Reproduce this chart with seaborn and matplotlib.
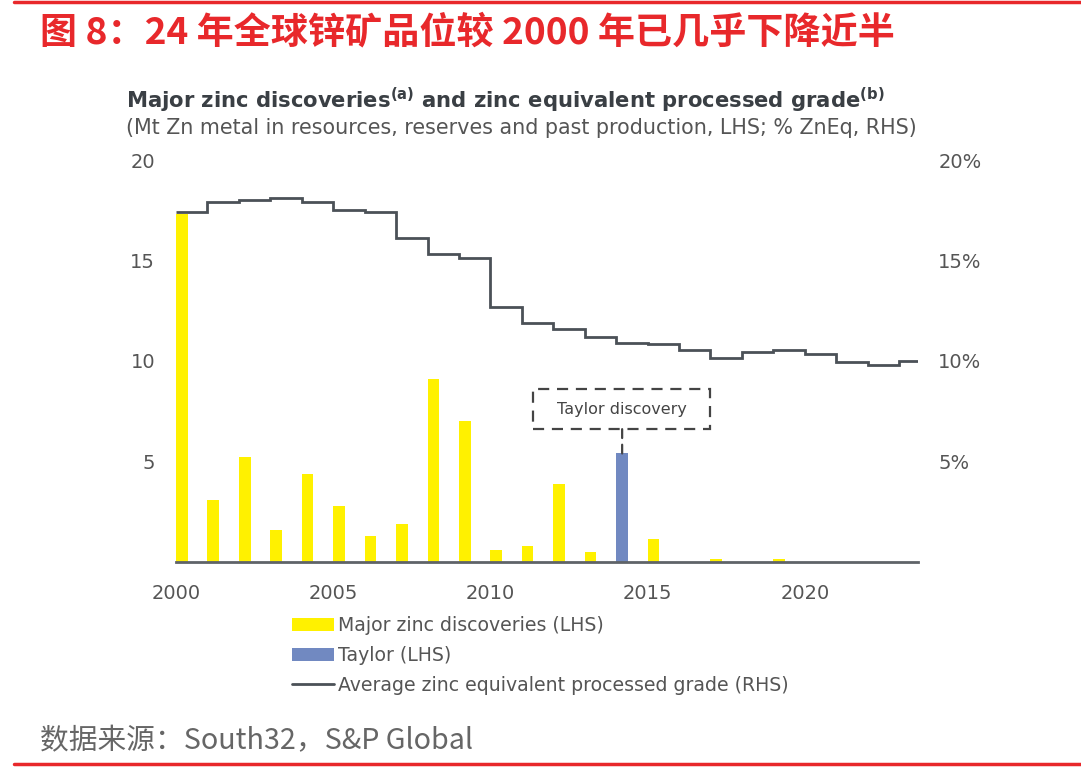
import numpy as np
import pandas as pd
import matplotlib
matplotlib.use("Agg")
import matplotlib.pyplot as plt
import seaborn as sns
from matplotlib.patches import Rectangle, Patch
from matplotlib.lines import Line2D
from matplotlib.ticker import FuncFormatter

# ---------------- data ----------------
years = list(range(2000, 2024))
discoveries = [17.3, 3.1, 5.2, 1.6, 4.4, 2.8, 1.3, 1.9, 9.1, 7.0, 0.6, 0.8,
               3.9, 0.5, 5.4, 1.15, 0.0, 0.17, 0.0, 0.17, 0.0, 0.0, 0.0, 0.0]
taylor_year = 2014
grade = [17.4, 17.9, 18.0, 18.1, 17.9, 17.5, 17.4, 16.1, 15.3, 15.1, 12.7, 11.9,
         11.6, 11.2, 10.9, 10.85, 10.55, 10.15, 10.45, 10.55, 10.35, 9.95, 9.8, 10.0]
series_names = ["Major zinc discoveries (LHS)", "Taylor (LHS)",
                "Average zinc equivalent processed grade (RHS)"]
left_ticks = [5, 10, 15, 20]
right_ticks = [5, 10, 15, 20]
x_ticks = [2000, 2005, 2010, 2015, 2020]

df = pd.DataFrame({
    "year": years,
    "value": discoveries,
    "series": [series_names[1] if y == taylor_year else series_names[0] for y in years],
})

YELLOW = "#FFF100"
BLUE = "#7189C1"
LINE = "#4B5157"
TXT = "#555555"
RED = "#E8282B"

sns.set_theme(style="white")
plt.rcParams["font.family"] = ["DejaVu Sans"]

fig = plt.figure(figsize=(10.81, 7.68), dpi=100)
ax = fig.add_axes([176 / 1081, 1 - 562 / 768, (918 - 176) / 1081, (562 - 160) / 768])

sns.barplot(data=df, x="year", y="value", hue="series", native_scale=True,
            dodge=False, width=0.37, errorbar=None, legend=False, saturation=1,
            palette={series_names[0]: YELLOW, series_names[1]: BLUE},
            linewidth=0, ax=ax)
# align bars' left edge with the year
for p in ax.patches:
    p.set_x(p.get_x() + p.get_width() / 2)

ax.set_xlim(2000, 2023.6)
ax.set_ylim(0, 20)
ax.set_xticks(x_ticks)
ax.set_yticks(left_ticks)
ax.set_xlabel("")
ax.set_ylabel("")
for s in ["top", "left", "right"]:
    ax.spines[s].set_visible(False)
ax.spines["bottom"].set_color("#5f6368")
ax.spines["bottom"].set_linewidth(2)
ax.tick_params(axis="both", length=0, labelsize=14, labelcolor=TXT)
ax.tick_params(axis="x", pad=16)
ax.tick_params(axis="y", pad=15)

ax2 = ax.twinx()
edges = np.append(np.array(years), years[-1] + 1)
ax2.stairs(grade, edges, color=LINE, linewidth=2, baseline=None)
ax2.set_ylim(0, 20)
ax2.set_yticks(right_ticks)
ax2.yaxis.set_major_formatter(FuncFormatter(lambda v, _: f"{v:.0f}%"))
for s in ["top", "left", "right", "bottom"]:
    ax2.spines[s].set_visible(False)
ax2.tick_params(axis="y", length=0, labelsize=14, labelcolor=TXT, pad=14.5)
ax2.grid(False)
ax.grid(False)

# Taylor annotation
tx = taylor_year + 0.19
tval = discoveries[years.index(taylor_year)]
box_x0, box_x1, box_y0, box_y1 = 2011.37, 2017.0, 6.61, 8.6
ax.add_patch(Rectangle((box_x0, box_y0), box_x1 - box_x0, box_y1 - box_y0,
                       fill=False, edgecolor="#444444", linewidth=1.6,
                       linestyle=(0, (5, 3.5)), clip_on=False, zorder=5))
ax.text((box_x0 + box_x1) / 2, (box_y0 + box_y1) / 2, "Taylor discovery",
        ha="center", va="center", fontsize=11.5, color="#444444", zorder=6)
ax.annotate("", xy=(tx, tval), xytext=(tx, box_y0),
            arrowprops=dict(arrowstyle="-", color="#444444", lw=1.6,
                            linestyle=(0, (4, 3)), shrinkA=0, shrinkB=0))

# Titles
fig.text(40 / 1081, 1 - 33 / 768, "图 8：24 年全球锌矿品位较 2000 年已几乎下降近半",
         fontsize=26.7, fontweight="bold", color=RED, ha="left", va="center",
         family=["Noto Sans CJK SC", "DejaVu Sans"])
fig.text(126 / 1081, 1 - 100 / 768,
         r"Major zinc discoveries$^{\mathbf{(a)}}$ and zinc equivalent processed grade$^{\mathbf{(b)}}$",
         fontsize=15.2, fontweight="bold", color="#3a3f44", ha="left", va="center")
fig.text(126 / 1081, 1 - 128 / 768,
         "(Mt Zn metal in resources, reserves and past production, LHS; % ZnEq, RHS)",
         fontsize=14.9, color=TXT, ha="left", va="center")
fig.text(40 / 1081, 1 - 741 / 768, "数据来源：South32，S&P Global",
         fontsize=20.7, color="#666666", ha="left", va="center",
         family=["Noto Sans CJK SC", "DejaVu Sans"])

# red rules
fig.add_artist(Line2D([14 / 1081, 1], [1 - 1.5 / 768, 1 - 1.5 / 768], color=RED, lw=2.5))
fig.add_artist(Line2D([14 / 1081, 1], [1 - 764 / 768, 1 - 764 / 768], color=RED, lw=2.5))

# legend
handles = [Patch(facecolor=YELLOW, edgecolor="none"),
           Patch(facecolor=BLUE, edgecolor="none"),
           Line2D([0], [0], color=LINE, lw=2)]
fig.legend(handles, series_names, loc="upper left",
           bbox_to_anchor=(292 / 1081, 1 - 616 / 768), frameon=False,
           fontsize=13.6, labelcolor=TXT, handlelength=2.2, handleheight=0.7,
           handletextpad=0.25, labelspacing=0.58, borderpad=0, borderaxespad=0)

fig.savefig("out.png", dpi=100)
